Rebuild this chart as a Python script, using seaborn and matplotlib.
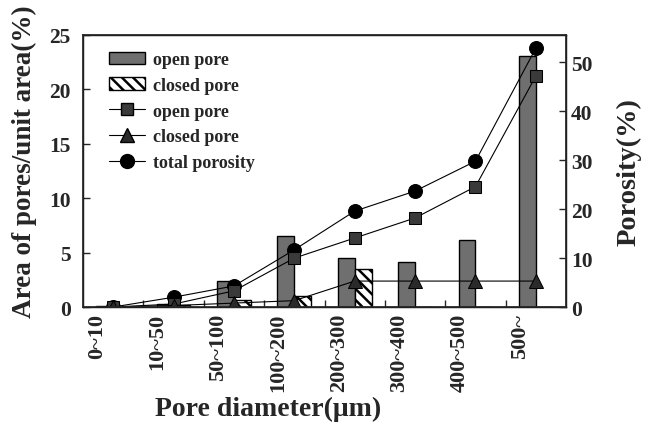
import numpy as np
import pandas as pd
import matplotlib
matplotlib.use("Agg")
import matplotlib.pyplot as plt
import seaborn as sns
from matplotlib.patches import Patch
from matplotlib.lines import Line2D
import matplotlib.transforms as mtransforms

sns.set_theme(style="white")
plt.rcParams['font.family'] = ['Liberation Serif', 'DejaVu Serif']
plt.rcParams['font.weight'] = 'bold'
plt.rcParams['hatch.linewidth'] = 1.8

categories = ["0~10", "10~50", "50~100", "100~200", "200~300", "300~400", "400~500", "500~"]
area_open = [0.05, 0.3, 2.35, 6.5, 4.5, 4.15, 6.15, 23.05]
area_closed = [0.0, 0.2, 0.6, 1.0, 3.5, 0.0, 0.0, 0.0]
por_open = [0.0, 0.6, 3.3, 10.0, 14.1, 18.2, 24.6, 47.2]
por_closed = [0.0, 0.3, 0.8, 1.3, 5.3, 5.3, 5.3, 5.3]
por_total = [0.0, 2.0, 4.3, 11.7, 19.6, 23.7, 29.8, 52.9]

df = pd.DataFrame({
    "cat": categories * 2,
    "val": area_open + area_closed,
    "kind": ["open pore"] * len(categories) + ["closed pore"] * len(categories),
})

OPEN_C = "#6f6f6f"

fig = plt.figure(figsize=(6.5, 4.39), dpi=100)
ax = fig.add_axes([0.1277, 0.2984, 0.7431, 0.6196])

sns.barplot(data=df, x="cat", y="val", hue="kind", ax=ax,
            palette={"open pore": OPEN_C, "closed pore": "white"},
            width=0.56, gap=0.0, legend=False, edgecolor="black", linewidth=1.0,
            saturation=1)
n = len(categories)
for i, p in enumerate(ax.patches):
    if i >= n and i < 2 * n:
        p.set_hatch("\\\\\\")
ax.set_ylim(0, 25)
ax.set_xlim(-0.5, n - 0.5)
ax.set_yticks([0, 5, 10, 15, 20, 25])
ax.set_ylabel("Area of pores/unit area(%)", fontsize=19.5, fontweight="bold")
ax.yaxis.set_label_coords(-0.095, 0.537)
ax.set_xlabel("Pore diameter(\u03bcm)", fontsize=20, fontweight="bold")
ax.xaxis.set_label_coords(0.383, -0.325)
ax.tick_params(axis="y", direction="in", length=5, width=1, labelsize=15.5, left=True, pad=9)
ax.set_xticks(range(n))
ax.set_xticklabels(categories, rotation=90, fontsize=16, fontweight="bold")
ax.tick_params(axis="x", length=0, pad=4)
offset = mtransforms.ScaledTranslation(-16 / 100, 0, fig.dpi_scale_trans)
for lab in ax.get_xticklabels():
    lab.set_transform(lab.get_transform() + offset)
ax.set_xticks(np.arange(0.5, n - 0.5, 1), minor=True)
ax.tick_params(axis="x", which="minor", direction="in", length=5, width=1, bottom=True)
for lab in ax.get_yticklabels():
    lab.set_fontweight("bold")
for s in ax.spines.values():
    s.set_color("black")
    s.set_linewidth(1.0)

ax2 = ax.twinx()
x = np.arange(n)
sns.lineplot(x=x, y=por_total, ax=ax2, color="black", linewidth=0.8, marker="o",
             markersize=10, markerfacecolor="black", markeredgecolor="black")
sns.lineplot(x=x, y=por_open, ax=ax2, color="black", linewidth=0.8, marker="s",
             markersize=9, markerfacecolor="#3a3a3a", markeredgecolor="black")
sns.lineplot(x=x, y=por_closed, ax=ax2, color="black", linewidth=0.8, marker="^",
             markersize=10, markerfacecolor="#2a2a2a", markeredgecolor="black")
ax2.set_ylim(0, 55.6)
ax2.set_yticks([0, 10, 20, 30, 40, 50])
ax2.set_ylabel("Porosity(%)", fontsize=20.5, fontweight="bold", labelpad=17)
ax2.tick_params(axis="y", direction="in", length=5, width=1, labelsize=15.5, right=True, pad=3.5)
for lab in ax2.get_yticklabels():
    lab.set_fontweight("bold")
ax2.grid(False)
ax.grid(False)

handles = [
    Patch(facecolor=OPEN_C, edgecolor="black", label="open pore"),
    Patch(facecolor="white", edgecolor="black", hatch="\\\\\\", label="closed pore"),
    Line2D([0], [0], color="black", lw=0.8, marker="s", markersize=9,
           markerfacecolor="#3a3a3a", label="open pore"),
    Line2D([0], [0], color="black", lw=0.8, marker="^", markersize=10,
           markerfacecolor="#2a2a2a", label="closed pore"),
    Line2D([0], [0], color="black", lw=0.8, marker="o", markersize=10,
           markerfacecolor="black", label="total porosity"),
]
ax2.legend(handles=handles, loc="upper left", bbox_to_anchor=(0.02, 1.0), frameon=False,
           prop={"family": "Liberation Serif", "weight": "bold", "size": 13},
           handlelength=2.0, labelspacing=0.48, handletextpad=0.45)

fig.savefig("out.png", dpi=100)
